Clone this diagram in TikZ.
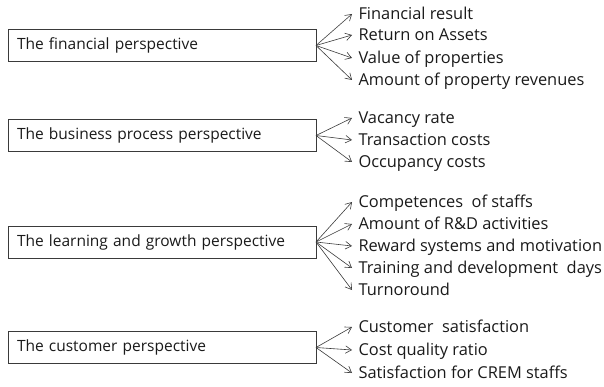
\documentclass[tikz,border=0pt]{standalone}
\usepackage{fontspec}
\setmainfont{Open Sans}
\usepackage{tikz}
\usetikzlibrary{arrows.meta}
\definecolor{cline}{HTML}{3A3A3A}
\definecolor{ctext}{HTML}{1A1A1A}

\begin{document}
\begin{tikzpicture}[x=1pt,y=-1pt,>={Straight Barb[length=6pt,width=7.5pt]},
    persp/.style={draw=cline,line width=0.8pt,anchor=west,inner xsep=9pt,inner ysep=0pt,
      text width=290pt,align=left,minimum height=32pt,outer sep=0pt,font=\fontsize{15.5}{17}\selectfont,text=ctext},
    item/.style={anchor=west,inner xsep=6.5pt,inner ysep=0pt,outer sep=0pt,
      text height=11.6pt,text depth=0pt,font=\fontsize{16.4}{18}\selectfont,text=ctext},
    link/.style={->,cline,line width=0.6pt}]
    \useasboundingbox (0,0) rectangle (604,387);
    % perspective boxes
    \node[persp] (fin)   at (8,45.5)  {The financial perspective};
    \node[persp] (biz)   at (8,135.5) {The business process perspective};
    \node[persp] (learn) at (8,242)   {The learning and growth perspective};
    \node[persp] (cust)  at (8,347.5) {The customer perspective};
    % measures
    \node[item] (fin1) at (352,14)  {Financial result};
    \node[item] (fin2) at (352,35)  {Return on Assets};
    \node[item] (fin3) at (352,58)  {Value of properties};
    \node[item] (fin4) at (352,80)  {Amount of property revenues};
    \node[item] (biz1) at (352,118) {Vacancy rate};
    \node[item] (biz2) at (352,140) {Transaction costs};
    \node[item] (biz3) at (352,162) {Occupancy costs};
    \node[item] (learn1) at (352,202) {Competences\ \ of staffs};
    \node[item] (learn2) at (352,224) {Amount of R\&D activities};
    \node[item] (learn3) at (352,246) {Reward systems and motivation};
    \node[item] (learn4) at (352,268) {Training and development\ \ days};
    \node[item] (learn5) at (352,290) {Turnoround};
    \node[item] (cust1) at (352,327) {Customer\ \ satisfaction};
    \node[item] (cust2) at (352,350) {Cost quality ratio};
    \node[item] (cust3) at (352,373) {Satisfaction for CREM staffs};
    % arrows
    \draw[link] (fin.east) -- (fin1.west);
    \draw[link] (fin.east) -- (fin2.west);
    \draw[link] (fin.east) -- (fin3.west);
    \draw[link] (fin.east) -- (fin4.west);
    \draw[link] (biz.east) -- (biz1.west);
    \draw[link] (biz.east) -- (biz2.west);
    \draw[link] (biz.east) -- (biz3.west);
    \draw[link] (learn.east) -- (learn1.west);
    \draw[link] (learn.east) -- (learn2.west);
    \draw[link] (learn.east) -- (learn3.west);
    \draw[link] (learn.east) -- (learn4.west);
    \draw[link] (learn.east) -- (learn5.west);
    \draw[link] (cust.east) -- (cust1.west);
    \draw[link] (cust.east) -- (cust2.west);
    \draw[link] (cust.east) -- (cust3.west);
\end{tikzpicture}
\end{document}
